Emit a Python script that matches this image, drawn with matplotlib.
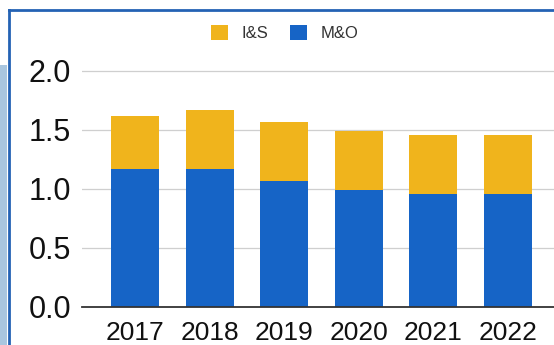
import matplotlib
matplotlib.use("Agg")
import matplotlib.pyplot as plt
from matplotlib.patches import Patch, Rectangle
from matplotlib.lines import Line2D

years = ["2017", "2018", "2019", "2020", "2021", "2022"]
mo = [1.17, 1.17, 1.07, 0.99, 0.96, 0.96]
ins = [0.45, 0.50, 0.50, 0.50, 0.50, 0.50]
yticks = [0.0, 0.5, 1.0, 1.5, 2.0]

c_ins = "#F0B41C"
c_mo = "#1664C6"

plt.rcParams['font.family'] = ['Liberation Sans', 'DejaVu Sans']

fig = plt.figure(figsize=(5.54, 3.45), dpi=100)
fig.patch.set_facecolor("white")

# photo frame decorations
fig.add_artist(Rectangle((0, 0), 7/554, 1 - 65/345, transform=fig.transFigure,
                         facecolor="#A9C6DF", edgecolor="none", zorder=0))
fig.add_artist(Line2D([9/554, 9/554], [0, 1 - 10/345], transform=fig.transFigure,
                      color="#2462B4", lw=2.0))
fig.add_artist(Line2D([9/554, 1], [1 - 10/345, 1 - 10/345], transform=fig.transFigure,
                      color="#2462B4", lw=2.0))

ax = fig.add_axes([82/554, 38/345, 1 - 82/554, (307 - 65)/345])
x = list(range(len(years)))
w = 0.645
ax.bar(x, mo, width=w, color=c_mo, zorder=3, label="M&O")
ax.bar(x, ins, width=w, bottom=mo, color=c_ins, zorder=3, label="I&S")

ax.set_xlim(-0.71, 5.617)
ax.set_ylim(0, 2.05)
ax.set_yticks(yticks)
ax.set_yticklabels([f"{v:.1f}" for v in yticks])
ax.set_xticks(x)
ax.set_xticklabels(years)
ax.tick_params(axis="y", labelsize=22, length=0, pad=8, colors="#111111")
ax.tick_params(axis="x", labelsize=19, length=0, pad=10, colors="#111111")
ax.grid(axis="y", color="#CFCFCF", lw=0.9, zorder=0)
for s in ["top", "right", "left"]:
    ax.spines[s].set_visible(False)
ax.spines["bottom"].set_color("#333333")
ax.spines["bottom"].set_linewidth(1.3)
ax.spines["bottom"].set_zorder(4)
ax.set_facecolor("none")

handles = [Patch(facecolor=c_ins, label="I&S"), Patch(facecolor=c_mo, label="M&O")]
fig.legend(handles=handles, loc="center", bbox_to_anchor=(285/554, 1 - 33/345),
           ncol=2, frameon=False, fontsize=12, handlelength=1.0, handleheight=1.0,
           handletextpad=0.85, columnspacing=1.3, labelcolor="#333333")

fig.savefig("out.png", dpi=100)
